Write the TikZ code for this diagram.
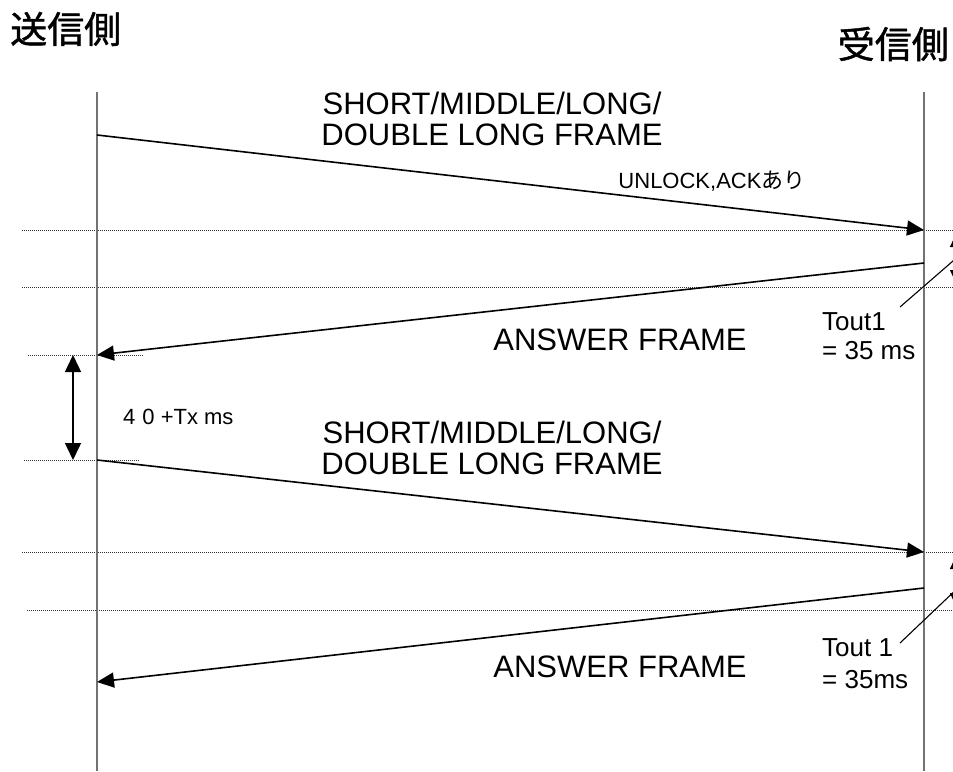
\documentclass[tikz,border=0pt]{standalone}
\usepackage{fontspec}
\setmainfont{Liberation Sans}
\newfontfamily\jp{Noto Sans CJK JP}
\newfontfamily\jphead[FakeBold=1.2]{Noto Sans CJK JP}
\usetikzlibrary{arrows.meta}
\usetikzlibrary{positioning}

\tikzset{
  life/.style={draw=black!55, line width=2pt},
  msg/.style={draw, line width=1.6pt, -{Triangle[length=17pt,width=15pt]}},
  span/.style={draw, line width=1.5pt, {Triangle[length=17pt,width=16pt]}-{Triangle[length=17pt,width=16pt]}},
  guide/.style={draw=black!80, line width=0.9pt, dash pattern=on 1pt off 1pt},
  lead/.style={draw, line width=1.1pt},
  big/.style={font=\fontsize{31}{32}\selectfont, inner sep=0pt},
  mid/.style={font=\fontsize{26}{28}\selectfont, inner sep=0pt, anchor=west},
  small/.style={font=\fontsize{22}{24}\selectfont, inner sep=0pt},
  title/.style={font=\jphead\fontsize{37}{39}\selectfont, inner sep=0pt}
}

\begin{document}
\begin{tikzpicture}[x=1pt, y=-1pt, node distance=32pt, on grid]
        \useasboundingbox (0,0) rectangle (953,771);

        % lifelines
        \coordinate (s0) at (97,92);
        \coordinate (s1) at (97,771);
        \coordinate (r0) at (924,92);
        \coordinate (r1) at (924,771);

        \node[title, anchor=west] (snd) at (10,29) {送信側};
        \node[title, anchor=east] (rcv) at (949,44) {受信側};

        % message ends
        \coordinate (a1) at (97,135);
        \coordinate (b1) at (924,230);
        \coordinate (b2) at (924,263);
        \coordinate (a2) at (97,355);
        \coordinate (a3) at (97,460);
        \coordinate (b3) at (924,552);
        \coordinate (b4) at (924,588);
        \coordinate (a4) at (97,682);

        % timing guides
        \path[guide] (22,230) -- (953,230);
        \path[guide] (22,287) -- (953,287);
        \path[guide] (28,355) -- (143,355);
        \path[guide] (24,460) -- (140,460);
        \path[guide] (22,552) -- (953,552);
        \path[guide] (27,610) -- (953,610);

        \path[life] (s0) -- (s1);
        \path[life] (r0) -- (r1);

        \path[msg] (a1) -- (b1);
        \path[msg] (b2) -- (a2);
        \path[msg] (a3) -- (b3);
        \path[msg] (b4) -- (a4);

        % interval between frames
        \coordinate (w0) at (73,355);
        \coordinate (w1) at (73,460);
        \path[span] (w0) -- (w1);
        \node[small, anchor=west] (wait) at (123,417) {4\hspace{7pt}0 +Tx ms};

        % Tout1 marks at the receiver
        \coordinate (t0) at (958,230);
        \coordinate (t1) at (958,287);
        \coordinate (t2) at (958,552);
        \coordinate (t3) at (958,610);
        \path[span] (t0) -- (t1);
        \path[span] (t2) -- (t3);

        \node[big] (fr1) at (492,103) {SHORT/MIDDLE/LONG/};
        \node[big] (fr1b) [below=of fr1] {DOUBLE LONG FRAME};
        \node[small] (ack) at (712,181) {UNLOCK,ACK{\jp あり}};
        \node[big] (ans1) at (620,340) {ANSWER FRAME};

        \node[big] (fr2) at (492,432) {SHORT/MIDDLE/LONG/};
        \node[big] (fr2b) [below=of fr2] {DOUBLE LONG FRAME};
        \node[big] (ans2) at (620,667) {ANSWER FRAME};

        \node[mid] (to1) at (822,322) {Tout1};
        \node[mid] (to1b) at (822,351) {= 35 ms};
        \node[mid] (to2) at (822,648) {Tout 1};
        \node[mid] (to2b) at (822,680) {= 35ms};

        \coordinate (l1) at (900,307);
        \coordinate (l1e) at (961,254);
        \coordinate (l2) at (900,643);
        \coordinate (l2e) at (961,585);
        \path[lead] (l1) -- (l1e);
        \path[lead] (l2) -- (l2e);
\end{tikzpicture}
\end{document}
